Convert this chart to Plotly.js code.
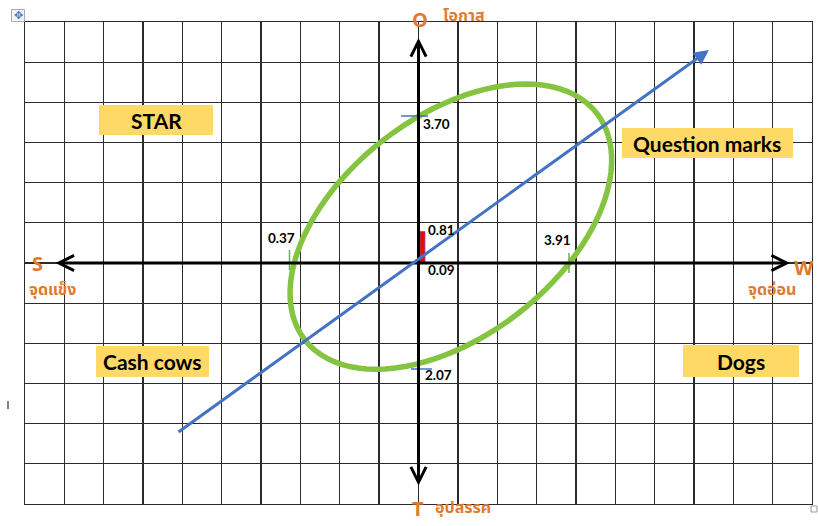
<!DOCTYPE html>
<html>
<head>
<meta charset="utf-8">
<script src="https://cdn.plot.ly/plotly-3.0.1.min.js"></script>
<style>html,body{margin:0;padding:0;background:#fff;}#chart{width:818px;height:526px;}</style>
</head>
<body>
<div id="chart"></div>
<script>
// ---- chart content ----
const axisLetters = ['O', 'S', 'W', 'T'];
const axisNames = ['โอกาส', 'จุดแข็ง', 'จุดอ่อน', 'อุปสรรค'];
const quadrantNames = ['STAR', 'Question marks', 'Cash cows', 'Dogs'];
const scoreLabels = ['3.70', '0.37', '0.81', '0.09', '3.91', '2.07'];
const gridColumns = [-10, 10];
const gridRows = [-6, 6];

// ---- geometry helpers (pixel -> axis units / paper units) ----
const PL = 25, PR = 812, PT = 22, PB = 504;
const X = px => gridColumns[0] + (px - PL) / (PR - PL) * (gridColumns[1] - gridColumns[0]);
const Y = py => gridRows[1] - (py - PT) / (PB - PT) * (gridRows[1] - gridRows[0]);
const PX = px => (px - PL) / (PR - PL);
const PY = py => (PB - py) / (PB - PT);

const ORANGE = '#E07A2E';
const BLUE = '#4472C4';
const GREEN = '#84C441';
const thaiFont = '"Noto Sans Thai", "Noto Sans", Tahoma, sans-serif';
const labFont = 'Lato, "Open Sans", sans-serif';
const letterFont = '"Open Sans", Lato, sans-serif';

// ellipse path (rotated)
const ell = {cx: 450.85, cy: 226.65, a: 184.8, b: 109.8, deg: 37.76};
let path = '';
{
  const th = ell.deg * Math.PI / 180;
  for (let i = 0; i <= 96; i++) {
    const t = i / 96 * 2 * Math.PI;
    const dx = ell.a * Math.cos(t) * Math.cos(th) - ell.b * Math.sin(t) * Math.sin(th);
    const dy = ell.a * Math.cos(t) * Math.sin(th) + ell.b * Math.sin(t) * Math.cos(th);
    path += (i === 0 ? 'M' : 'L') + X(ell.cx + dx).toFixed(4) + ',' + Y(ell.cy - dy).toFixed(4);
  }
  path += 'Z';
}

const shapes = [];
// quadrant boxes
const boxes = [[99, 213, 105, 135], [622, 793, 128, 158], [96, 209, 346, 377], [683, 799, 345, 377]];
boxes.forEach(b => shapes.push({type: 'rect', xref: 'x', yref: 'y', x0: X(b[0]), x1: X(b[1]), y0: Y(b[2]), y1: Y(b[3]),
  fillcolor: '#FFD966', line: {width: 0}, layer: 'above'}));
// ellipse
shapes.push({type: 'path', xref: 'x', yref: 'y', path: path, line: {color: GREEN, width: 5.5}, fillcolor: 'rgba(0,0,0,0)'});
// red bar
shapes.push({type: 'rect', xref: 'x', yref: 'y', x0: X(420), x1: X(425), y0: Y(231.5), y1: Y(262), fillcolor: '#FF0000', line: {color: BLUE, width: 0.8}});
// ticks
shapes.push({type: 'line', xref: 'x', yref: 'y', x0: X(289.5), x1: X(289.5), y0: Y(250), y1: Y(270), line: {color: '#70AD47', width: 1.5}});
shapes.push({type: 'line', xref: 'x', yref: 'y', x0: X(569), x1: X(569), y0: Y(253), y1: Y(273), line: {color: '#70AD47', width: 1.5}});
shapes.push({type: 'line', xref: 'x', yref: 'y', x0: X(401), x1: X(428), y0: Y(116), y1: Y(116), line: {color: BLUE, width: 1.5}});
shapes.push({type: 'line', xref: 'x', yref: 'y', x0: X(411), x1: X(432), y0: Y(369), y1: Y(369), line: {color: BLUE, width: 1.5}});
// word artefacts
shapes.push({type: 'rect', xref: 'paper', yref: 'paper', x0: PX(11.5), x1: PX(24.5), y0: PY(9.5), y1: PY(21.5), line: {color: '#AAAAAA', width: 1}, fillcolor: '#F4F4F4'});
shapes.push({type: 'rect', xref: 'paper', yref: 'paper', x0: PX(811), x1: PX(817), y0: PY(506), y1: PY(512), line: {color: '#999999', width: 1}, fillcolor: '#FFFFFF'});
shapes.push({type: 'line', xref: 'paper', yref: 'paper', x0: PX(8), x1: PX(8), y0: PY(401), y1: PY(409), line: {color: '#333333', width: 1.2}});

const ann = [];
const txt = (s, px, py, size, color, family, weight) => ann.push({
  text: s, xref: 'paper', yref: 'paper', x: PX(px), y: PY(py), showarrow: false,
  font: {size: size, color: color, family: family, weight: weight || 'normal'}, xanchor: 'center', yanchor: 'middle'});

// arrows: axes
ann.push({xref: 'x', yref: 'y', axref: 'x', ayref: 'y', x: X(418.5), y: Y(38), ax: X(418.5), ay: Y(487), text: '',
  showarrow: true, arrowside: 'end+start', arrowhead: 5, startarrowhead: 5, arrowwidth: 3, arrowsize: 1, startarrowsize: 1, arrowcolor: '#000'});
ann.push({xref: 'x', yref: 'y', axref: 'x', ayref: 'y', x: X(790), y: Y(263), ax: X(54), ay: Y(263), text: '',
  showarrow: true, arrowside: 'end+start', arrowhead: 5, startarrowhead: 5, arrowwidth: 3, arrowsize: 1, startarrowsize: 1, arrowcolor: '#000'});
// blue trend arrow
ann.push({xref: 'x', yref: 'y', axref: 'x', ayref: 'y', x: X(709), y: Y(50), ax: X(177), ay: Y(433), text: '',
  showarrow: true, arrowhead: 2, arrowwidth: 3, arrowsize: 1, arrowcolor: BLUE});

// axis letters and names
txt(axisLetters[0], 420, 19, 20, ORANGE, letterFont, 'bold');
txt(axisNames[0], 464, 16, 16, ORANGE, thaiFont, 'bold');
txt(axisLetters[1], 37, 263, 20, ORANGE, letterFont, 'bold');
txt(axisNames[1], 52, 290, 16, ORANGE, thaiFont, 'bold');
txt(axisLetters[2], 804, 267, 20, ORANGE, letterFont, 'bold');
txt(axisNames[2], 772, 290, 16, ORANGE, thaiFont, 'bold');
txt(axisLetters[3], 418, 508, 20, ORANGE, letterFont, 'bold');
txt(axisNames[3], 463, 508, 16, ORANGE, thaiFont, 'bold');

// quadrant names
const qpos = [[156, 120], [707, 143], [152, 361], [741, 361]];
quadrantNames.forEach((q, i) => txt(q, qpos[i][0], qpos[i][1], 21, '#000', labFont, 'bold'));

// score labels
const spos = [[436, 124], [281, 238], [441, 230], [441, 270], [557, 240], [438, 375]];
scoreLabels.forEach((s, i) => txt(s, spos[i][0], spos[i][1], 13.5, '#000', labFont, 'bold'));

// move handle glyph
ann.push({text: '✥', xref: 'paper', yref: 'paper', x: PX(18), y: PY(15.5), showarrow: false,
  font: {size: 11, color: BLUE, family: 'DejaVu Sans'}, xanchor: 'center', yanchor: 'middle'});

const axisCommon = {dtick: 1, showgrid: true, gridcolor: '#2b2b2b', gridwidth: 1.3, zeroline: false,
  showticklabels: false, ticks: '', showline: true, mirror: true, linecolor: '#2b2b2b', linewidth: 1.3, fixedrange: true};

const layout = {
  width: 818, height: 526,
  margin: {l: PL, r: 818 - PR, t: PT, b: 526 - PB, pad: 0},
  paper_bgcolor: '#fff', plot_bgcolor: '#fff',
  xaxis: Object.assign({range: gridColumns, tick0: 0}, axisCommon),
  yaxis: Object.assign({range: gridRows, tick0: 0}, axisCommon),
  showlegend: false, hovermode: false,
  shapes: shapes, annotations: ann
};

Plotly.newPlot('chart', [{x: [], y: [], type: 'scatter'}], layout, {displayModeBar: false, staticPlot: true});
</script>
</body>
</html>
